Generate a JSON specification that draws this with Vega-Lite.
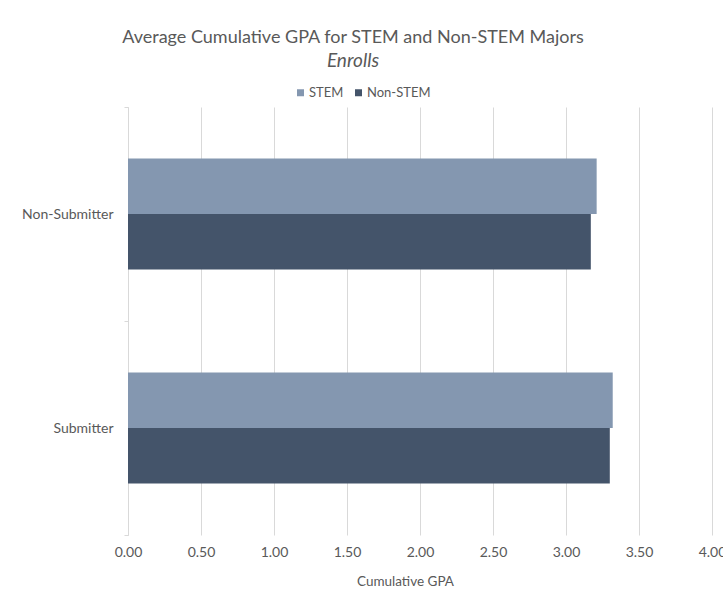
{
  "$schema": "https://vega.github.io/schema/vega-lite/v6.json",
  "width": 584,
  "height": 428,
  "autosize": "none",
  "padding": {"left": 128, "top": 107, "right": 11, "bottom": 70},
  "background": "white",
  "config": {
    "font": "Lato",
    "view": {"stroke": null}
  },
  "title": {
    "text": "Average Cumulative GPA for STEM and Non-STEM Majors",
    "subtitle": "Enrolls",
    "anchor": "middle",
    "frame": "group",
    "dx": -67,
    "offset": 15,
    "font": "Lato",
    "fontSize": 18,
    "fontWeight": "normal",
    "color": "#595959",
    "subtitleFont": "Lato",
    "subtitleFontSize": 19,
    "subtitleFontStyle": "italic",
    "subtitleColor": "#595959",
    "subtitlePadding": 5
  },
  "data": {
    "values": [
      {"group": "Non-Submitter", "major": "STEM", "gpa": 3.21},
      {"group": "Non-Submitter", "major": "Non-STEM", "gpa": 3.17},
      {"group": "Submitter", "major": "STEM", "gpa": 3.32},
      {"group": "Submitter", "major": "Non-STEM", "gpa": 3.30}
    ]
  },
  "mark": {"type": "bar"},
  "encoding": {
    "y": {
      "field": "group",
      "type": "nominal",
      "sort": ["Non-Submitter", "Submitter"],
      "scale": {"paddingInner": 0, "paddingOuter": 0},
      "axis": {
        "title": null,
        "domainColor": "#d9d9d9",
        "tickColor": "#d9d9d9",
        "tickBand": "extent",
        "tickSize": 4,
        "labelPadding": 11,
        "labelFontSize": 14,
        "labelColor": "#595959",
        "grid": false
      }
    },
    "yOffset": {
      "field": "major",
      "type": "nominal",
      "sort": ["STEM", "Non-STEM"],
      "scale": {"paddingInner": 0, "paddingOuter": 0.928}
    },
    "x": {
      "field": "gpa",
      "type": "quantitative",
      "scale": {"domain": [0, 4], "nice": false},
      "axis": {
        "title": "Cumulative GPA",
        "values": [0, 0.5, 1, 1.5, 2, 2.5, 3, 3.5, 4],
        "format": ".2f",
        "domain": false,
        "ticks": false,
        "grid": true,
        "gridColor": "#d9d9d9",
        "labelFlush": false,
        "labelOverlap": false,
        "labelPadding": 10,
        "labelFontSize": 14,
        "labelColor": "#595959",
        "titleFontSize": 13.5,
        "titleFontWeight": "normal",
        "titleColor": "#595959",
        "titlePadding": 15,
        "titleX": 277
      }
    },
    "color": {
      "field": "major",
      "type": "nominal",
      "sort": ["STEM", "Non-STEM"],
      "scale": {"domain": ["STEM", "Non-STEM"], "range": ["#8497b0", "#44546a"]},
      "legend": {
        "title": null,
        "orient": "none",
        "direction": "horizontal",
        "legendX": 166,
        "legendY": -21,
        "padding": 0,
        "symbolType": "square",
        "symbolSize": 49,
        "symbolStrokeWidth": 0,
        "labelFontSize": 13,
        "labelColor": "#595959",
        "labelOffset": 2,
        "columnPadding": 8
      }
    }
  }
}
